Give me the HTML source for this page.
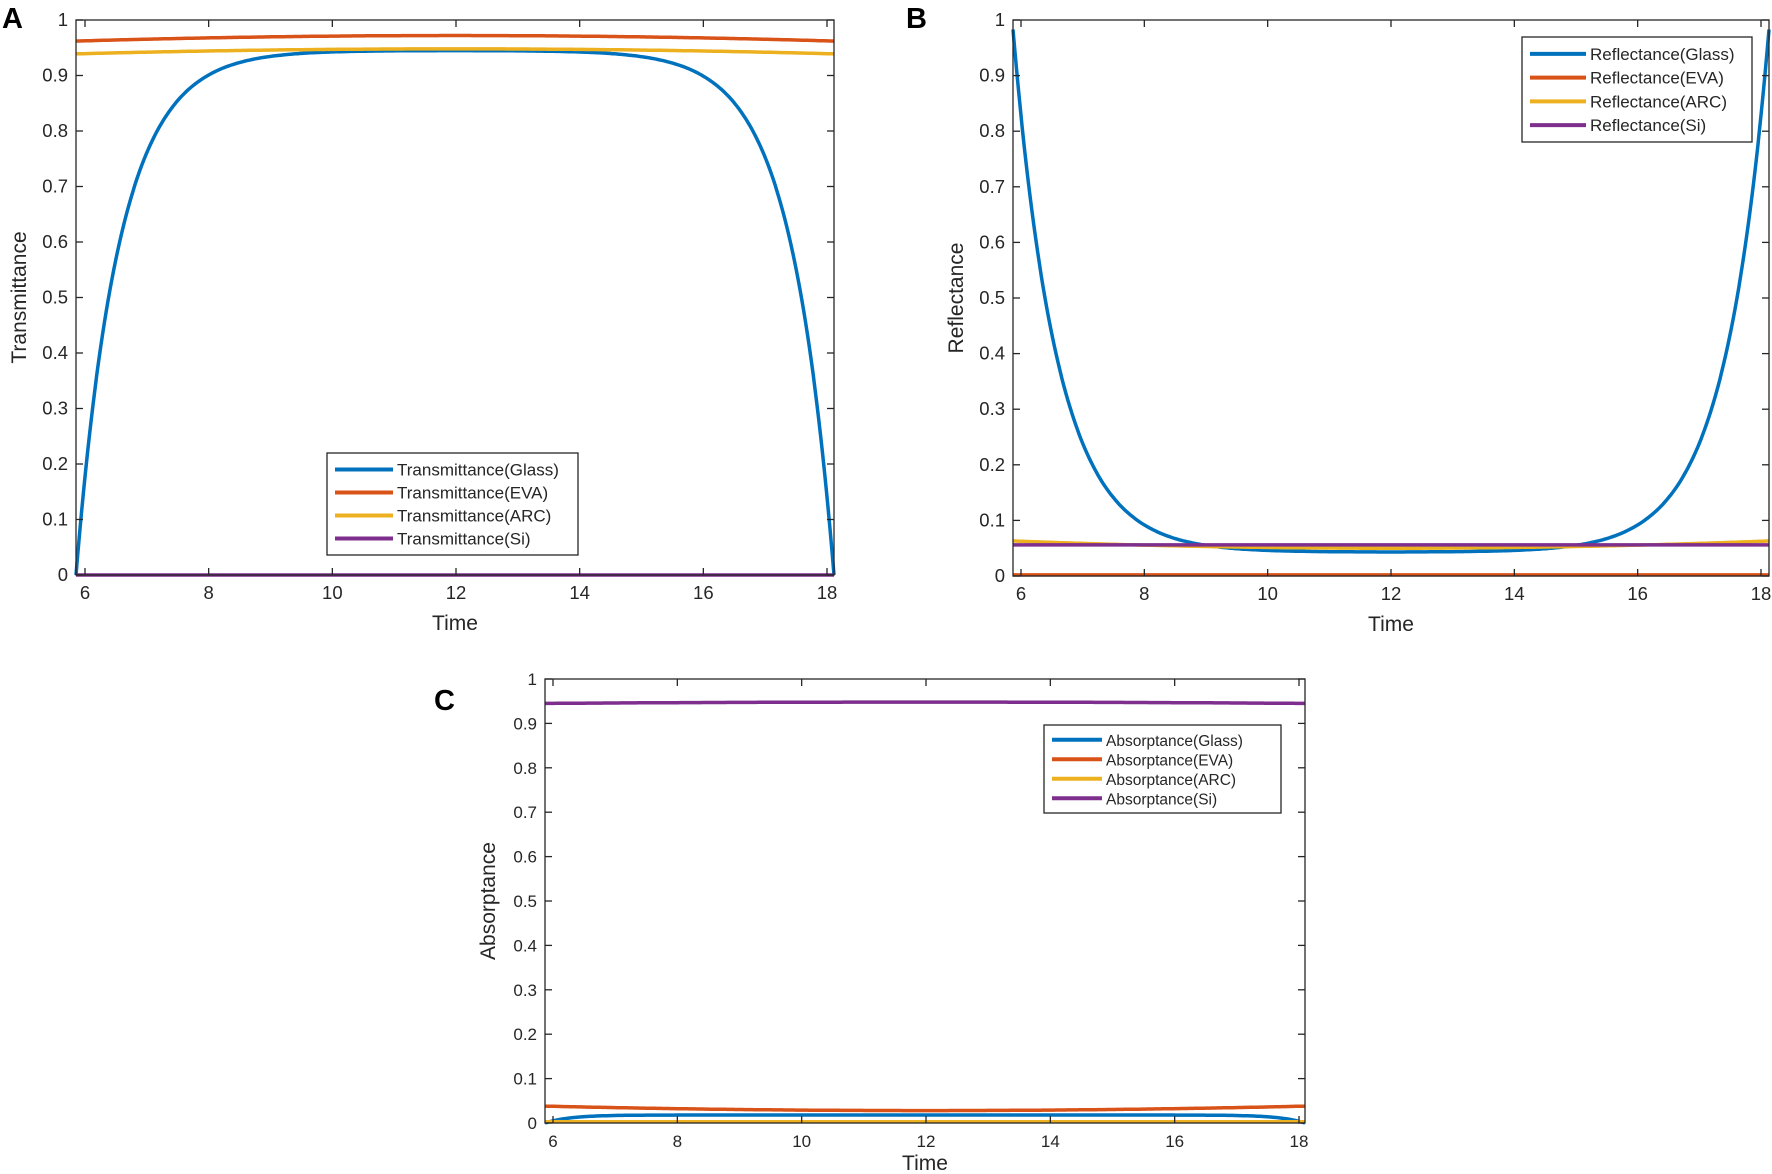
<!DOCTYPE html>
<html><head><meta charset="utf-8"><style>
html,body{margin:0;padding:0;background:#fff;}
svg{display:block;font-family:"Liberation Sans",Arial,sans-serif;}
</style></head><body>
<svg id="s" width="1772" height="1174" viewBox="0 0 1772 1174" xmlns="http://www.w3.org/2000/svg">
<rect width="1772" height="1174" fill="#fff"/>
<text x="2" y="28" font-size="29" font-weight="bold">A</text>
<text x="906" y="28" font-size="29" font-weight="bold">B</text>
<text x="434" y="710" font-size="29" font-weight="bold">C</text>
</svg>
<script>
var S=document.getElementById('s'),NS='http://www.w3.org/2000/svg';
function el(t,a,txt){var e=document.createElementNS(NS,t);for(var k in a)e.setAttribute(k,a[k]);if(txt!==undefined)e.textContent=txt;S.appendChild(e);return e;}
var C={g:'#0072BD',e:'#D95319',a:'#EDB120',s:'#7E2F8E'};
function panel(o){
  var L=o.L,R=o.R,T=o.T,B=o.B,x6=o.x6,x18=o.x18,fs=o.fs||18.5;
  var ph=(x18-x6)/12;
  function X(t){return x6+(t-6)*ph;}
  function Y(v){return B-(B-T)*v;}
  var t0=6-(x6-L)/ph,t1=18+(R-x18)/ph;
  o.series.forEach(function(s){
    var d='';
    for(var i=0;i<=400;i++){var t=t0+(t1-t0)*i/400;var v=s.f(t,Math.min(t-t0,t1-t),(t-t0)/(t1-t0));
      d+=(i?'L':'M')+X(t).toFixed(1)+','+Y(v).toFixed(1);}
    el('path',{d:d,fill:'none',stroke:s.c,'stroke-width':s.w||3.5});
  });
  el('rect',{x:L,y:T,width:R-L,height:B-T,fill:'none',stroke:'#262626','stroke-width':1.3});
  for(var t=6;t<=18;t+=2){var x=X(t);
    el('line',{x1:x,y1:B,x2:x,y2:B-7,stroke:'#262626','stroke-width':1.3});
    el('line',{x1:x,y1:T,x2:x,y2:T+7,stroke:'#262626','stroke-width':1.3});
    el('text',{x:x,y:B+24,'font-size':fs,'text-anchor':'middle',fill:'#262626'},String(t));}
  for(var i=0;i<=10;i++){var y=Y(i/10);
    el('line',{x1:L,y1:y,x2:L+7,y2:y,stroke:'#262626','stroke-width':1.3});
    el('line',{x1:R,y1:y,x2:R-7,y2:y,stroke:'#262626','stroke-width':1.3});
    el('text',{x:L-8,y:y+6,'font-size':fs,'text-anchor':'end',fill:'#262626'},i==0?'0':i==10?'1':'0.'+i);}
  el('text',{x:(L+R)/2,y:o.xlY,'font-size':21,'text-anchor':'middle',fill:'#262626'},'Time');
  el('text',{x:o.ylX,y:(T+B)/2,'font-size':21,'text-anchor':'middle',fill:'#262626',transform:'rotate(-90 '+o.ylX+' '+(T+B)/2+')'},o.ylab);
  var lg=o.lg;
  el('rect',{x:lg.x,y:lg.y,width:lg.w,height:lg.h,fill:'#fff',stroke:'#262626','stroke-width':1.3});
  var keys=['g','e','a','s'],names=['Glass','EVA','ARC','Si'];
  var rs=(lg.h-10)/4;
  for(var k=0;k<4;k++){var cy=lg.y+5+rs*(k+0.5);
    el('line',{x1:lg.x+8,y1:cy,x2:lg.x+lg.lw,y2:cy,stroke:C[keys[k]],'stroke-width':4});
    el('text',{x:lg.x+lg.lw+4,y:cy+6,'font-size':lg.fs,fill:'#262626'},o.ylab+'('+names[k]+')');}
}
function bump(a,b){return function(t,d,u){return a+(b-a)*(1-Math.pow(2*u-1,2));};}
panel({L:76,R:834,T:20,B:575,x6:85,x18:827,xlY:630,ylX:26,ylab:'Transmittance',
  lg:{x:327,y:453,w:251,h:102,lw:66,fs:17},
  series:[{c:C.g,f:function(t,d){return 0.945*(1-Math.exp(-d/0.7));}},
          {c:C.e,f:bump(0.962,0.972)},{c:C.a,f:bump(0.939,0.948)},{c:C.s,f:function(){return 0.0;}}]});
panel({L:1013,R:1769,T:20,B:576,x6:1021,x18:1761,xlY:631,ylX:963,ylab:'Reflectance',
  lg:{x:1522,y:37,w:230,h:105,lw:64,fs:17},
  series:[{c:C.g,f:function(t,d){return 0.043+0.94*Math.exp(-d/0.72);}},
          {c:C.e,f:function(){return 0.002;}},{c:C.a,f:bump(0.063,0.05)},{c:C.s,f:function(){return 0.056;}}]});
panel({L:545,R:1305,T:679,B:1123,x6:553,x18:1299,xlY:1170,ylX:495,ylab:'Absorptance',fs:17,
  lg:{x:1044,y:725,w:237,h:88,lw:58,fs:15.5},
  series:[{c:C.g,f:function(t,d){return 0.018*(1-Math.exp(-d/0.4));}},
          {c:C.e,f:bump(0.038,0.028)},{c:C.a,f:function(){return 0.003;}},{c:C.s,f:bump(0.945,0.948)}]});
</script>
</body></html>
